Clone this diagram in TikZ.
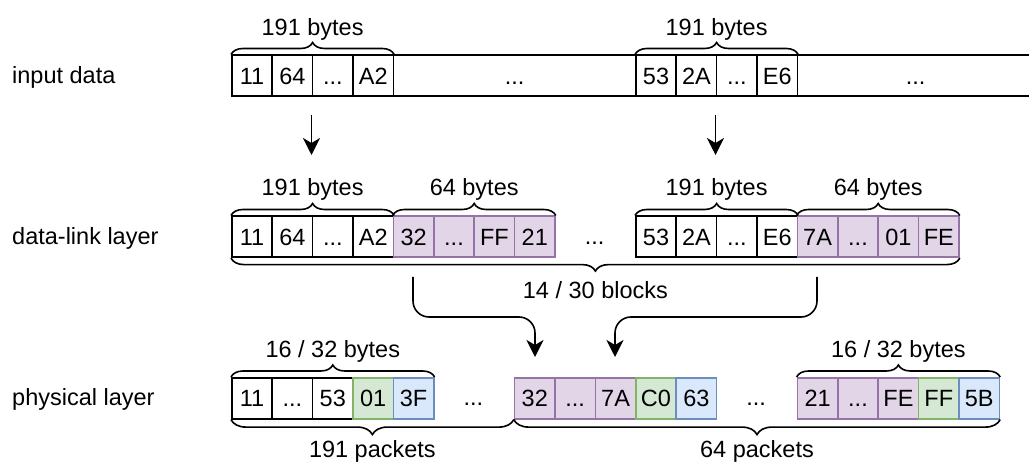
\documentclass[tikz,border=0pt]{standalone}
\usepackage{fontspec}
\setmainfont{Liberation Sans}
\usetikzlibrary{arrows.meta,decorations.pathreplacing}
\definecolor{pfill}{HTML}{E1D5E7}
\definecolor{pline}{HTML}{9673A6}
\definecolor{gfill}{HTML}{D5E8D4}
\definecolor{gline}{HTML}{82B366}
\definecolor{bfill}{HTML}{DAE8FC}
\definecolor{bline}{HTML}{6C8EBF}
\begin{document}
\begin{tikzpicture}[x=1pt,y=-1pt,
  every node/.style={font=\fontsize{23.5}{28}\selectfont, inner sep=0pt},
  cell/.style={draw=black, line width=1.6pt, minimum width=40.4pt, minimum height=41pt, anchor=north west, text height=16.8pt, text depth=0pt},
  wide/.style={cell, minimum width=#1},
  pcell/.style={cell, draw=pline, fill=pfill},
  gcell/.style={cell, draw=gline, fill=gfill},
  bcell/.style={cell, draw=bline, fill=bfill},
  dots/.style={text height=16.8pt, text depth=0pt},
  lab/.style={anchor=base west},
  brc/.style={decorate, decoration={brace, amplitude=#1}, line width=1.6pt},
  brcb/.style={decorate, decoration={brace, amplitude=#1, mirror}, line width=1.6pt},
  arr/.style={line width=1.6pt, -{Stealth[length=17pt, width=17pt, inset=5pt]}}]
\useasboundingbox (0,0) rectangle (1029,462);
\def\w{40.4}
% ---- row 1: input data
\node[lab] (l1) at (12,83.4) {input data};
\node[cell] (a1) at (231,54.5) {11};
\node[cell] (a2) at ({231+\w},54.5) {64};
\node[cell] (a3) at ({231+2*\w},54.5) {...};
\node[cell] (a4) at ({231+3*\w},54.5) {A2};
\node[wide=242.4pt] (ag) at ({231+4*\w},54.5) {...};
\node[cell] (b1) at (635,54.5) {53};
\node[cell] (b2) at ({635+\w},54.5) {2A};
\node[cell] (b3) at ({635+2*\w},54.5) {...};
\node[cell] (b4) at ({635+3*\w},54.5) {E6};
\node[wide=236.4pt] (bg) at ({635+4*\w},54.5) {...};
\draw[brc=12pt] (a1.north west) -- (a4.north east) node[midway, anchor=base, yshift=19pt] (t1) {191 bytes};
\draw[brc=12pt] (b1.north west) -- (b4.north east) node[midway, anchor=base, yshift=19pt] (t2) {191 bytes};
% arrows row1 -> row2
\coordinate (s1) at (311.5,115);
\coordinate (e1) at (311.5,155);
\coordinate (s2) at (715.5,115);
\coordinate (e2) at (715.5,155);
\draw[arr] (s1) -- (e1);
\draw[arr] (s2) -- (e2);
% ---- row 2: data-link layer
\node[lab] (l2) at (12,244.5) {data-link layer};
\node[cell] (c1) at (231,215.5) {11};
\node[cell] (c2) at ({231+\w},215.5) {64};
\node[cell] (c3) at ({231+2*\w},215.5) {...};
\node[cell] (c4) at ({231+3*\w},215.5) {A2};
\node[pcell] (c5) at ({231+4*\w},215.5) {32};
\node[pcell] (c6) at ({231+5*\w},215.5) {...};
\node[pcell] (c7) at ({231+6*\w},215.5) {FF};
\node[pcell] (c8) at ({231+7*\w},215.5) {21};
\node[dots] (cg) at (594.6,236) {...};
\node[cell] (d1) at (635,215.5) {53};
\node[cell] (d2) at ({635+\w},215.5) {2A};
\node[cell] (d3) at ({635+2*\w},215.5) {...};
\node[cell] (d4) at ({635+3*\w},215.5) {E6};
\node[pcell] (d5) at ({635+4*\w},215.5) {7A};
\node[pcell] (d6) at ({635+5*\w},215.5) {...};
\node[pcell] (d7) at ({635+6*\w},215.5) {01};
\node[pcell] (d8) at ({635+7*\w},215.5) {FE};
\draw[brc=12pt] (c1.north west) -- (c4.north east) node[midway, anchor=base, yshift=19.5pt] (t3) {191 bytes};
\draw[brc=12pt] (c5.north west) -- (c8.north east) node[midway, anchor=base, yshift=19.5pt] (t4) {64 bytes};
\draw[brc=12pt] (d1.north west) -- (d4.north east) node[midway, anchor=base, yshift=19.5pt] (t5) {191 bytes};
\draw[brc=12pt] (d5.north west) -- (d8.north east) node[midway, anchor=base, yshift=19.5pt] (t6) {64 bytes};
\draw[brcb=13pt] (c1.south west) -- (d8.south east) node[midway, anchor=base, yshift=-40.5pt] (t7) {14 / 30 blocks};
% curved arrows
\coordinate (s3) at (413,277);
\coordinate (e3) at (535,357);
\coordinate (s4) at (817,277);
\coordinate (e4) at (615,357);
\draw[arr, rounded corners=16pt] (s3) |- (474,317) -| (e3);
\draw[arr, rounded corners=16pt] (s4) |- (716,317) -| (e4);
% ---- row 3: physical layer
\node[lab] (l3) at (12,406) {physical layer};
\node[cell] (f1) at (231,377) {11};
\node[cell] (f2) at ({231+\w},377) {...};
\node[cell] (f3) at ({231+2*\w},377) {53};
\node[gcell] (f4) at ({231+3*\w},377) {01};
\node[bcell] (f5) at ({231+4*\w},377) {3F};
\node[dots] (fg) at (473.4,397.5) {...};
\node[pcell] (g1) at (513.8,377) {32};
\node[pcell] (g2) at ({513.8+\w},377) {...};
\node[pcell] (g3) at ({513.8+2*\w},377) {7A};
\node[gcell] (g4) at ({513.8+3*\w},377) {C0};
\node[bcell] (g5) at ({513.8+4*\w},377) {63};
\node[dots] (gg) at (756.2,397.5) {...};
\node[pcell] (h1) at (796.6,377) {21};
\node[pcell] (h2) at ({796.6+\w},377) {...};
\node[pcell] (h3) at ({796.6+2*\w},377) {FE};
\node[gcell] (h4) at ({796.6+3*\w},377) {FF};
\node[bcell] (h5) at ({796.6+4*\w},377) {5B};
\draw[brc=12pt] (f1.north west) -- (f5.north east) node[midway, anchor=base, yshift=19pt] (t8) {16 / 32 bytes};
\draw[brc=12pt] (h1.north west) -- (h5.north east) node[midway, anchor=base, yshift=19pt] (t9) {16 / 32 bytes};
\draw[brcb=15pt] (f1.south west) -- (g1.south west) node[midway, anchor=base, yshift=-38pt] (t10) {191 packets};
\draw[brcb=15pt] (g1.south west) -- (h5.south east) node[midway, anchor=base, yshift=-38pt] (t11) {64 packets};
\end{tikzpicture}
\end{document}
